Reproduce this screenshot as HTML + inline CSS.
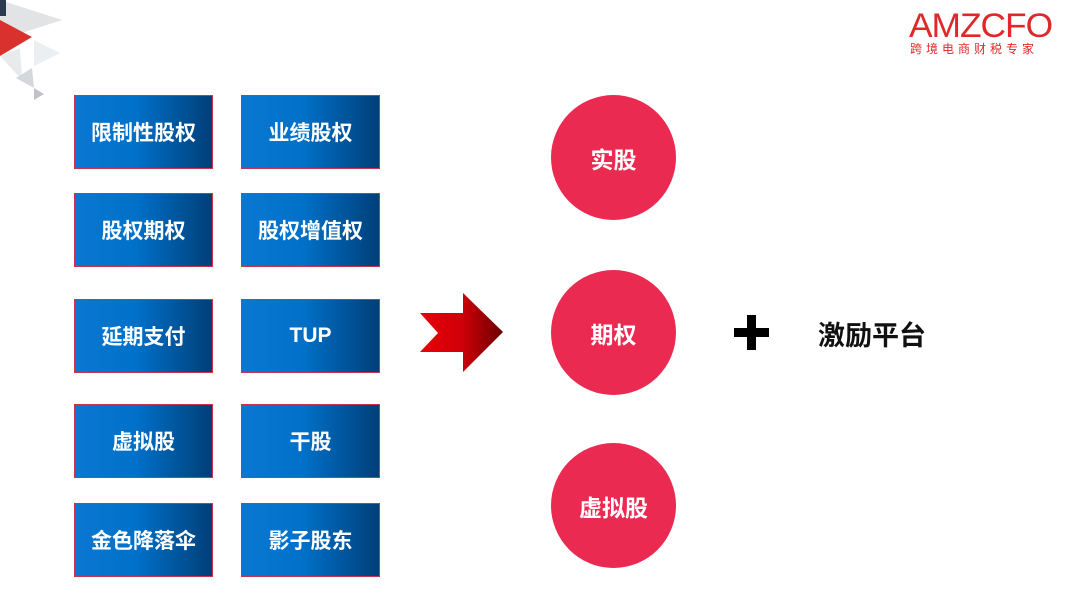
<!DOCTYPE html>
<html><head><meta charset="utf-8"><style>
body{margin:0;width:1080px;height:591px;background:#fff;position:relative;overflow:hidden;font-family:"Liberation Sans","Noto Sans CJK SC",sans-serif}
.b{position:absolute;width:137px;height:72px;border:1px solid #c8354a;background:linear-gradient(90deg,#0a78d2 0%,#0070c8 45%,#003f78 100%);color:#fff;font-weight:bold;font-size:21px;display:flex;align-items:center;justify-content:center}
.c{position:absolute;width:125px;height:125px;border-radius:50%;background:#ea2a50;color:#fff;font-weight:bold;font-size:23px;display:flex;align-items:center;justify-content:center}
</style></head><body>
<svg style="position:absolute;left:0;top:0" width="80" height="110">
<polygon points="0,0 62,20 0,40" fill="#e1e3e5"/>
<polygon points="0,0 6,0 6,16 0,16" fill="#2a3a50"/>
<polygon points="0,20 32,37 0,56" fill="#d9322e"/>
<polygon points="34,40 60,53 34,66" fill="#eceff2"/>
<polygon points="0,56 20,48 22,80" fill="#e8eaec"/>
<polygon points="16,78 32,68 34,88" fill="#d4d8dc"/>
<polygon points="34,88 44,94 34,100" fill="#bfc3c7"/>
</svg>
<div style="position:absolute;left:909px;top:9px;color:#e0282a;font-size:34px;letter-spacing:-1px;line-height:34px;transform:scaleX(1.04);transform-origin:left">AMZCFO</div>
<div style="position:absolute;left:910px;top:40px;color:#e0282a;font-size:12px;letter-spacing:4px">跨境电商财税专家</div>
<div class="b" style="left:74px;top:95px">限制性股权</div>
<div class="b" style="left:241px;top:95px">业绩股权</div>
<div class="b" style="left:74px;top:193px">股权期权</div>
<div class="b" style="left:241px;top:193px">股权增值权</div>
<div class="b" style="left:74px;top:299px">延期支付</div>
<div class="b" style="left:241px;top:299px">TUP</div>
<div class="b" style="left:74px;top:404px">虚拟股</div>
<div class="b" style="left:241px;top:404px">干股</div>
<div class="b" style="left:74px;top:503px">金色降落伞</div>
<div class="b" style="left:241px;top:503px">影子股东</div>
<svg style="position:absolute;left:0;top:0" width="1080" height="591">
<defs><linearGradient id="g" x1="0" x2="1"><stop offset="0" stop-color="#e8000a"/><stop offset="0.5" stop-color="#d00008"/><stop offset="1" stop-color="#6a0000"/></linearGradient></defs>
<polygon points="420,313 463,313 463,293 503,332 463,372 463,352 420,352 438,333" fill="url(#g)"/>
<rect x="734" y="328" width="35" height="9" fill="#000"/>
<rect x="747" y="315" width="9" height="35" fill="#000"/>
</svg>
<div class="c" style="left:551px;top:95px">实股</div>
<div class="c" style="left:551px;top:270px">期权</div>
<div class="c" style="left:551px;top:443px">虚拟股</div>
<div style="position:absolute;left:818px;top:314px;font-size:27px;font-weight:bold;color:#111">激励平台</div>
</body></html>
